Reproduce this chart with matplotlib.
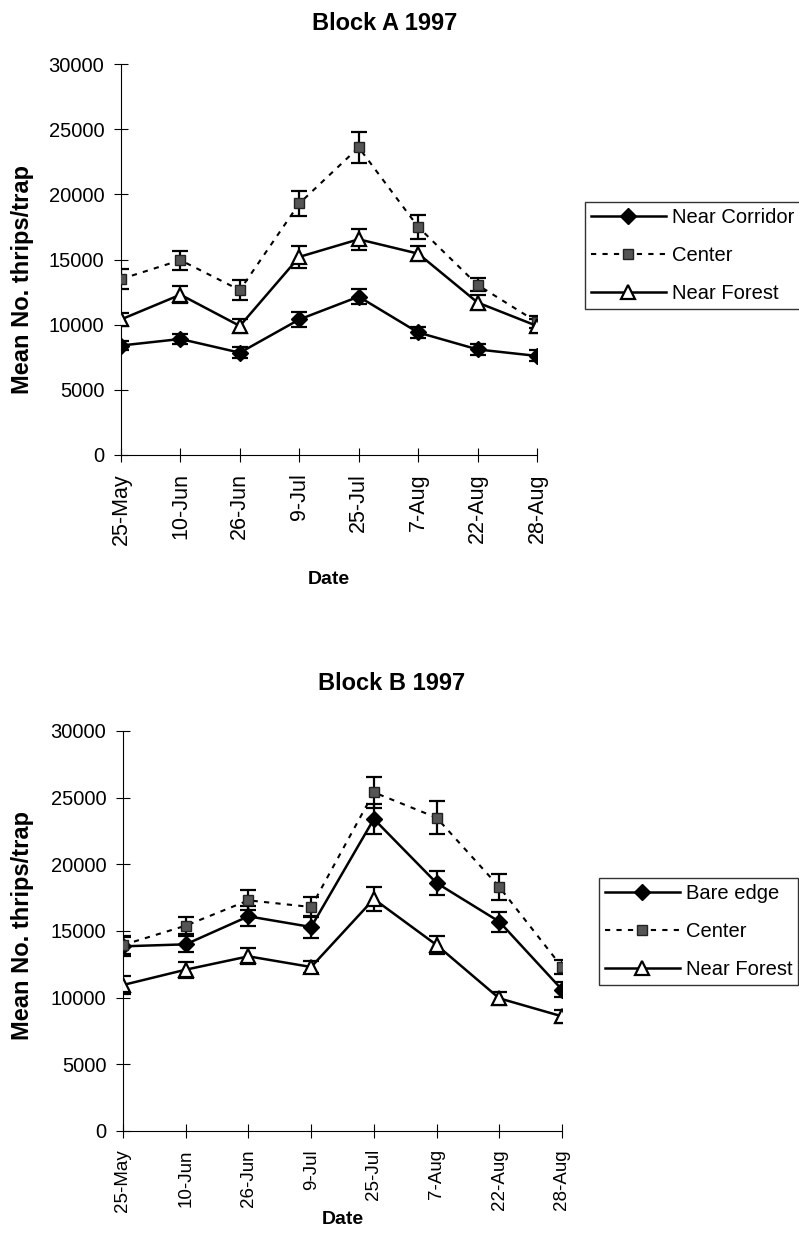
import matplotlib.pyplot as plt
import numpy as np

plt.rcParams['font.family'] = ['Liberation Sans', 'DejaVu Sans']

dates = ['25-May', '10-Jun', '26-Jun', '9-Jul', '25-Jul', '7-Aug', '22-Aug', '28-Aug']

# Block A
a_corridor = [8400, 8900, 7850, 10400, 12150, 9400, 8100, 7600]
a_corridor_err = [350, 400, 400, 600, 580, 450, 400, 420]
a_center = [13500, 14950, 12650, 19300, 23600, 17500, 13050, 10200]
a_center_err = [740, 720, 740, 960, 1180, 930, 500, 450]
a_forest = [10400, 12300, 9900, 15200, 16550, 15450, 11700, 9900]
a_forest_err = [480, 640, 540, 830, 790, 600, 550, 560]

# Block B
b_bare = [13850, 14000, 16100, 15300, 23400, 18600, 15700, 10600]
b_bare_err = [700, 600, 750, 800, 1150, 900, 750, 550]
b_center = [13950, 15400, 17300, 16800, 25400, 23500, 18300, 12300]
b_center_err = [700, 620, 750, 780, 1180, 1230, 940, 500]
b_forest = [10950, 12100, 13100, 12300, 17400, 13950, 9950, 8600]
b_forest_err = [700, 600, 600, 450, 920, 700, 500, 500]

W, H = 799, 1243
fig = plt.figure(figsize=(W / 100, H / 100), dpi=100)
ax1 = fig.add_axes([121 / W, 1 - 455 / H, 416 / W, 391 / H])
ax2 = fig.add_axes([123 / W, 1 - 1131 / H, 439 / W, 400 / H])

x = np.arange(len(dates))


def draw(ax, series, labels, xfs):
    styles = [
        dict(marker='D', color='black', mfc='black', mec='black', ms=8, ls='-', lw=1.8),
        dict(marker='s', color='black', mfc='#555555', mec='#222222', ms=7, ls=(0, (2.5, 3)), lw=1.5),
        dict(marker='^', color='black', mfc='white', mec='black', ms=10, mew=1.6, ls='-', lw=1.8),
    ]
    handles = []
    for (vals, err), lab, st in zip(series, labels, styles):
        ax.errorbar(x, vals, yerr=err, fmt='none', ecolor='black', elinewidth=1.6,
                    capsize=6, capthick=1.6, zorder=2)
        h, = ax.plot(x, vals, label=lab, zorder=3, **st)
        handles.append(h)
    ax.set_xlim(0, 7)
    ax.set_ylim(0, 30000)
    ax.set_yticks(range(0, 30001, 5000))
    ax.set_xticks(x)
    ax.set_xticklabels(dates, rotation=90, fontsize=xfs)
    ax.tick_params(axis='y', labelsize=14.5, pad=7)
    ax.tick_params(axis='x', pad=8)
    ax.tick_params(direction='inout', length=10, width=0.8)
    for s in ['top', 'right']:
        ax.spines[s].set_visible(False)
    ax.set_ylabel('Mean No. thrips/trap', fontsize=17, fontweight='bold')
    ax.set_xlabel('Date', fontsize=14, fontweight='bold')
    ax.yaxis.label.set_va('center')
    ax.xaxis.label.set_va('center')
    return handles


h1 = draw(ax1, [(a_corridor, a_corridor_err), (a_center, a_center_err), (a_forest, a_forest_err)],
          ['Near Corridor', 'Center', 'Near Forest'], 15.5)
h2 = draw(ax2, [(b_bare, b_bare_err), (b_center, b_center_err), (b_forest, b_forest_err)],
          ['Bare edge', 'Center', 'Near Forest'], 13.5)

ax1.yaxis.set_label_coords((23 - 121) / 416, (455 - 279) / 391)
ax2.yaxis.set_label_coords((23 - 123) / 439, (1131 - 925) / 400)
ax1.xaxis.set_label_coords(0.5, -(580 - 455) / 391)
ax2.xaxis.set_label_coords(0.5, -(1220 - 1131) / 400)

fig.text(385 / W, 1 - 23 / H, 'Block A 1997', ha='center', va='center', fontsize=17, fontweight='bold')
fig.text(392 / W, 1 - 683 / H, 'Block B 1997', ha='center', va='center', fontsize=17, fontweight='bold')

for h, anchor in [(h1, (585 / W, 1 - 202 / H)), (h2, (599 / W, 1 - 878 / H))]:
    leg = fig.legend(handles=h, loc='upper left', bbox_to_anchor=anchor, fontsize=14.5,
                     frameon=True, fancybox=False, edgecolor='black', handlelength=3.7,
                     handletextpad=0.3, borderpad=0.3, labelspacing=0.95, borderaxespad=0)
    leg.get_frame().set_linewidth(1.0)

fig.savefig('out.png', dpi=100)
